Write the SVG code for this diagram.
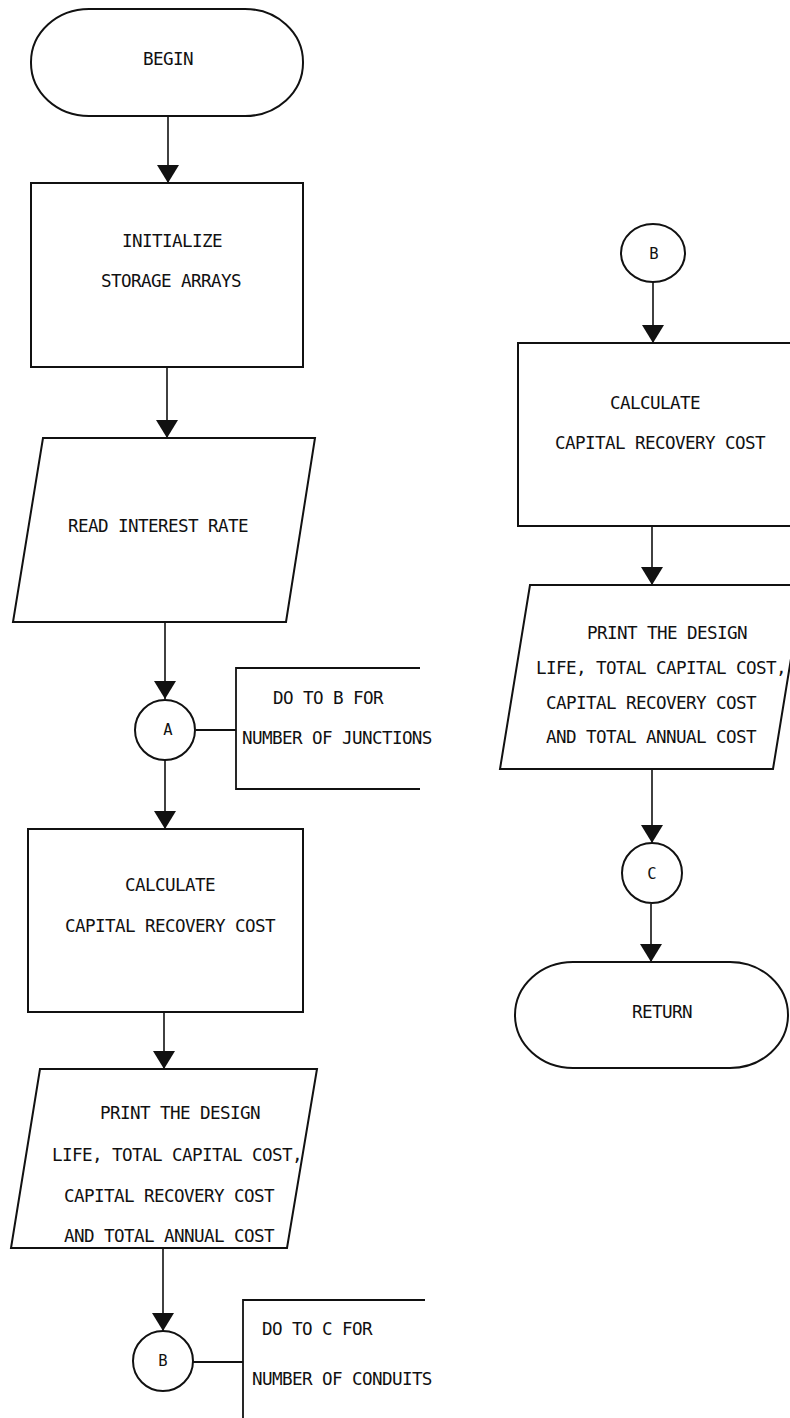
<svg xmlns="http://www.w3.org/2000/svg" width="790" height="1418" viewBox="0 0 790 1418">
  <style>
    .shape { fill: #ffffff; stroke: #111111; stroke-width: 2; }
    .line { fill: none; stroke: #111111; stroke-width: 1.8; }
    .flow { fill: none; stroke: #111111; stroke-width: 1.6; marker-end: url(#tri); }
    text { font-family: "DejaVu Sans Mono", "Liberation Mono", monospace; font-size: 17.6px; letter-spacing: -0.6px; fill: #111111; }
    .c { text-anchor: middle; }
    .conn { font-size: 15.5px; letter-spacing: 0; }
  </style>
  <defs>
    <marker id="tri" markerUnits="userSpaceOnUse" markerWidth="20" markerHeight="24" viewBox="0 -12 19 24" refX="18" refY="0" orient="auto">
      <path d="M0,-11 L18,0 L0,11 Z" fill="#111111"/>
    </marker>
  </defs>
  <rect width="790" height="1418" fill="#ffffff"/>

  <!-- connectors -->
  <g id="connectors">
    <line class="flow" x1="168" y1="116" x2="168" y2="183"/>
    <line class="flow" x1="167" y1="367" x2="167" y2="438"/>
    <line class="flow" x1="165" y1="622" x2="165" y2="699"/>
    <line class="flow" x1="165" y1="760" x2="165" y2="829"/>
    <line class="flow" x1="164" y1="1012" x2="164" y2="1069"/>
    <line class="flow" x1="163" y1="1248" x2="163" y2="1331"/>
    <line class="line" x1="196" y1="730" x2="236" y2="730"/>
    <line class="line" x1="193" y1="1362" x2="243" y2="1362"/>
    <line class="flow" x1="653" y1="282" x2="653" y2="343"/>
    <line class="flow" x1="652" y1="526" x2="652" y2="585"/>
    <line class="flow" x1="652" y1="769" x2="652" y2="843"/>
    <line class="flow" x1="651" y1="904" x2="651" y2="962"/>
  </g>

  <!-- left column -->
  <g id="begin">
    <rect class="shape" x="31" y="9" width="272" height="107" rx="58" ry="53"/>
    <text class="c" x="168" y="65">BEGIN</text>
  </g>
  <g id="init">
    <rect class="shape" x="31" y="183" width="272" height="184"/>
    <text class="c" x="172" y="247">INITIALIZE</text>
    <text class="c" x="171" y="287">STORAGE ARRAYS</text>
  </g>
  <g id="read">
    <polygon class="shape" points="43,438 315,438 286,622 13,622"/>
    <text class="c" x="158" y="532">READ INTEREST RATE</text>
  </g>
  <g id="connA">
    <circle class="shape" cx="165" cy="730" r="30"/>
    <text class="c conn" x="168" y="735" fill="#444444">A</text>
  </g>
  <g id="loopA">
    <polyline class="line" points="420,668 236,668 236,789 420,789"/>
    <text x="273" y="704">DO TO B FOR</text>
    <text x="242" y="744">NUMBER OF JUNCTIONS</text>
  </g>
  <g id="calcL">
    <rect class="shape" x="28" y="829" width="275" height="183"/>
    <text class="c" x="170" y="891">CALCULATE</text>
    <text class="c" x="170" y="932">CAPITAL RECOVERY COST</text>
  </g>
  <g id="printL">
    <polygon class="shape" points="40,1069 317,1069 287,1248 11,1248"/>
    <text class="c" x="180" y="1119">PRINT THE DESIGN</text>
    <text class="c" x="177" y="1161">LIFE, TOTAL CAPITAL COST,</text>
    <text class="c" x="169" y="1202">CAPITAL RECOVERY COST</text>
    <text class="c" x="169" y="1242">AND TOTAL ANNUAL COST</text>
  </g>
  <g id="connBL">
    <circle class="shape" cx="163" cy="1361" r="30"/>
    <text class="c conn" x="163" y="1366">B</text>
  </g>
  <g id="loopB">
    <polyline class="line" points="425,1300 243,1300 243,1418"/>
    <text x="262" y="1335">DO TO C FOR</text>
    <text x="252" y="1385">NUMBER OF CONDUITS</text>
  </g>

  <!-- right column -->
  <g id="connBR">
    <ellipse class="shape" cx="653" cy="253" rx="32" ry="29"/>
    <text class="c conn" x="654" y="259">B</text>
  </g>
  <g id="calcR">
    <rect class="shape" x="518" y="343" width="290" height="183"/>
    <text class="c" x="655" y="409">CALCULATE</text>
    <text class="c" x="660" y="449">CAPITAL RECOVERY COST</text>
  </g>
  <g id="printR">
    <polygon class="shape" points="530,585 803,585 773,769 500,769"/>
    <text class="c" x="667" y="639">PRINT THE DESIGN</text>
    <text class="c" x="661" y="674">LIFE, TOTAL CAPITAL COST,</text>
    <text class="c" x="651" y="709">CAPITAL RECOVERY COST</text>
    <text class="c" x="651" y="743">AND TOTAL ANNUAL COST</text>
  </g>
  <g id="connC">
    <circle class="shape" cx="652" cy="873" r="30"/>
    <text class="c conn" x="652" y="879">C</text>
  </g>
  <g id="return">
    <rect class="shape" x="515" y="962" width="273" height="106" rx="58" ry="53"/>
    <text class="c" x="662" y="1018">RETURN</text>
  </g>
</svg>
